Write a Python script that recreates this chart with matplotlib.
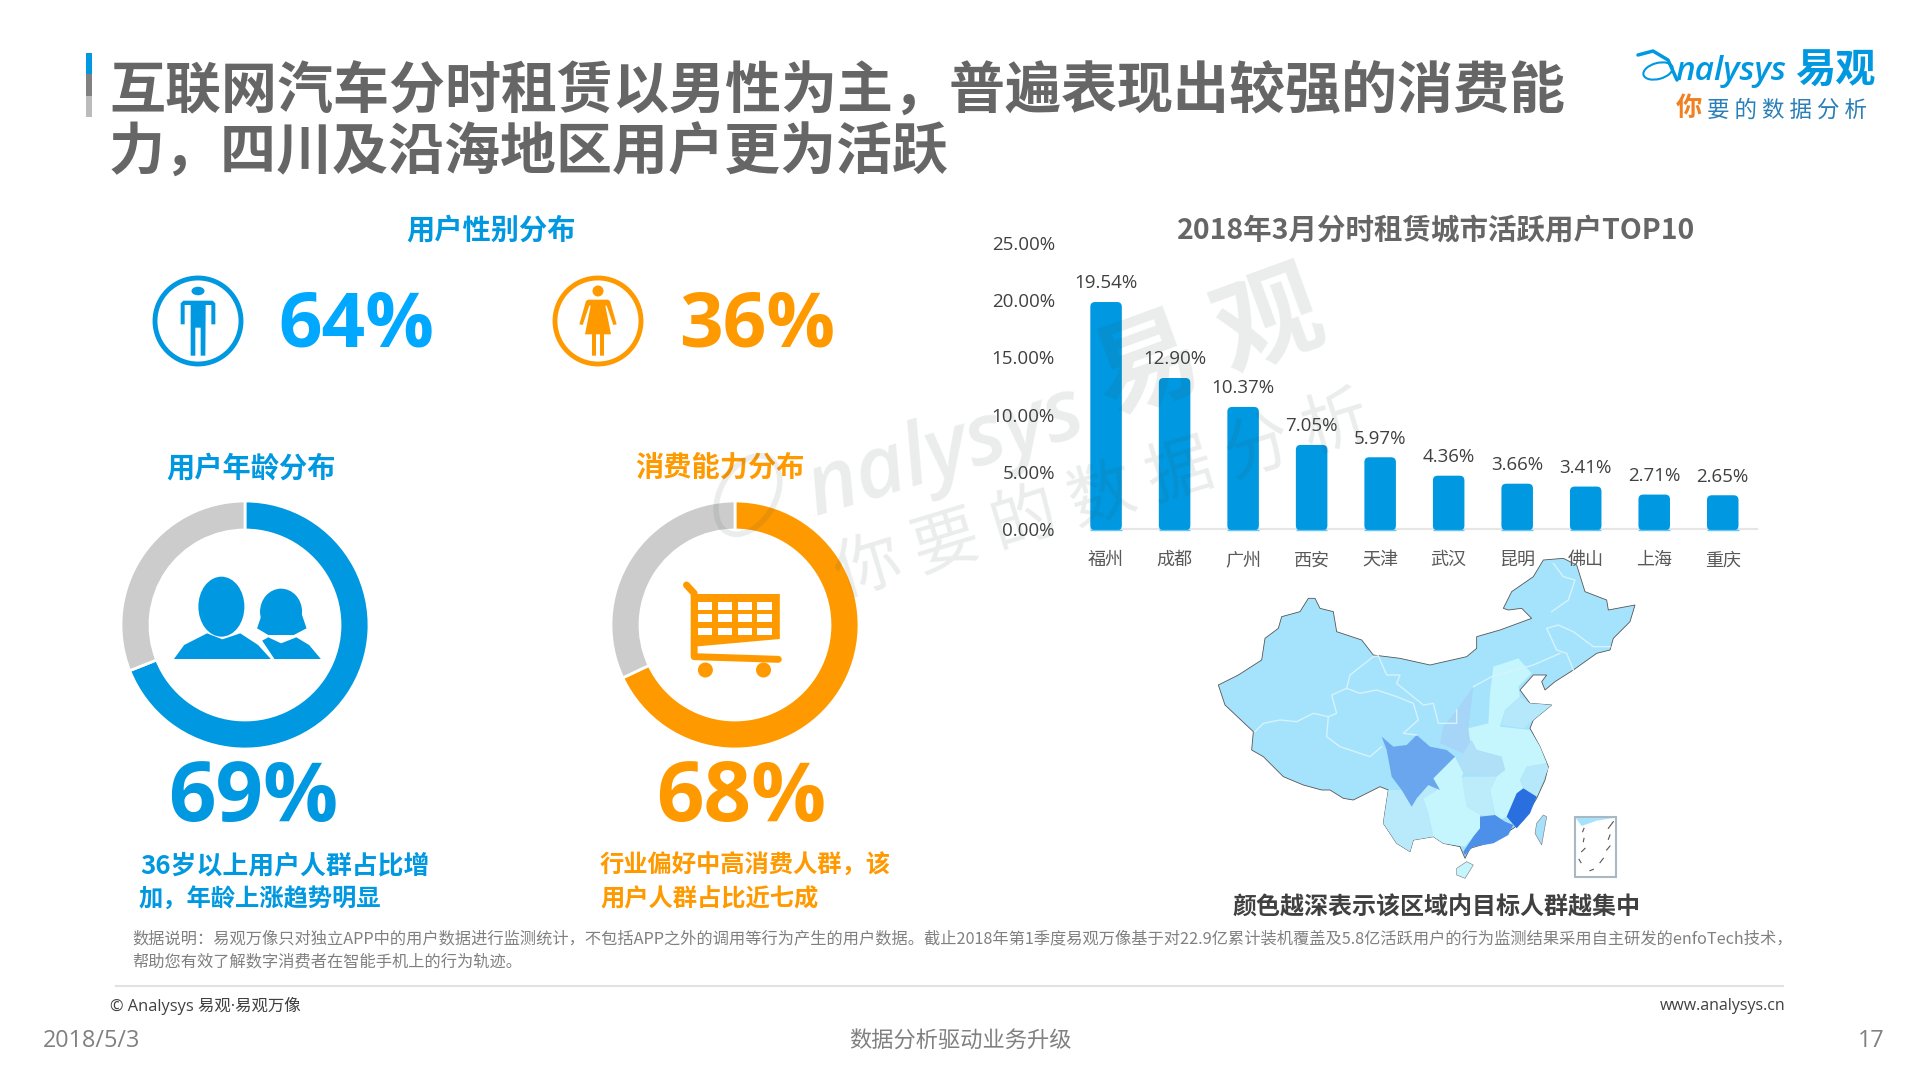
import matplotlib
matplotlib.use('Agg')
import matplotlib.pyplot as plt
from matplotlib.patches import Circle, Ellipse, FancyBboxPatch, Polygon, Rectangle

CJK = ['Noto Sans CJK SC', 'DejaVu Sans']
LATIN = ['Open Sans', 'Noto Sans CJK SC', 'DejaVu Sans']
plt.rcParams['font.family'] = LATIN

BLUE = '#0098E0'
SKY = '#00A8FF'
ORANGE = '#FF9900'
RING_GREY = '#CCCCCC'

# chart data
cities = ['福州', '成都', '广州', '西安', '天津', '武汉', '昆明', '佛山', '上海', '重庆']
city_share = [19.54, 12.90, 10.37, 7.05, 5.97, 4.36, 3.66, 3.41, 2.71, 2.65]
share_ticks = [0, 5, 10, 15, 20, 25]
male_pct = 64
female_pct = 36
age_share = [69, 31]
spend_share = [68, 32]

title_lines = ['互联网汽车分时租赁以男性为主，普遍表现出较强的消费能', '力，四川及沿海地区用户更为活跃']
note_lines = [
    '数据说明：易观万像只对独立APP中的用户数据进行监测统计，不包括APP之外的调用等行为产生的用户数据。'
    '截止2018年第1季度易观万像基于对22.9亿累计装机覆盖及5.8亿活跃用户的行为监测结果采用自主研发的enfoTech技术，',
    '帮助您有效了解数字消费者在智能手机上的行为轨迹。',
]

china = [(115, 405), (175, 375), (245, 330), (255, 265), (295, 235), (305, 200), (360, 185), (385, 145),
         (405, 145), (420, 175), (460, 185), (470, 245), (545, 270), (580, 315), (660, 325), (750, 345),
         (860, 320), (890, 295), (890, 260), (960, 240), (1055, 205), (1025, 175), (985, 180), (970, 175),
         (995, 125), (1060, 80), (1090, 30), (1150, 25), (1190, 45), (1215, 125), (1280, 150), (1285, 180),
         (1365, 165), (1350, 215), (1300, 265), (1290, 300), (1250, 310), (1180, 360), (1125, 395), (1095, 420),
         (1085, 395), (1100, 375), (1060, 375), (1020, 420), (1050, 460), (1115, 465), (1060, 510), (1050, 535),
         (1080, 590), (1105, 650), (1095, 690), (1070, 745), (1030, 810), (1000, 835), (960, 860), (920, 880),
         (870, 895), (855, 925), (840, 890), (790, 880), (760, 860), (700, 870), (690, 905), (650, 880),
         (610, 820), (615, 785), (625, 720), (600, 710), (520, 750), (490, 745), (450, 720), (425, 720),
         (370, 705), (310, 680), (250, 620), (215, 600), (220, 545), (135, 465)]
regions = [
    ('#A6D5F7', [(880, 410), (865, 535), (875, 570), (850, 610), (780, 580), (790, 530), (830, 480)]),
    ('#C5F6FD', [(940, 350), (1015, 325), (1055, 370), (1015, 410), (1020, 440), (975, 480), (960, 530), (1050, 540),
                 (1080, 590), (1100, 640), (1040, 650), (1020, 690), (1030, 715), (1010, 730), (980, 800), (950, 815),
                 (930, 720), (950, 680), (975, 660), (965, 620), (890, 600), (870, 570), (865, 535), (925, 520),
                 (930, 430)]),
    ('#B5E8FA', [(975, 480), (1020, 440), (1050, 460), (1115, 465), (1060, 510), (1030, 535), (965, 525)]),
    ('#B5E8FA', [(1040, 650), (1100, 640), (1105, 655), (1070, 740), (1030, 715), (1020, 690)]),
    ('#B0DFF8', [(850, 610), (875, 570), (890, 600), (965, 620), (975, 660), (940, 680), (850, 670), (830, 650)]),
    ('#BCECFA', [(845, 680), (950, 680), (930, 720), (945, 800), (900, 795), (860, 770)]),
    ('#C5F6FD', [(730, 745), (770, 720), (760, 685), (790, 655), (825, 620), (850, 670), (845, 680), (860, 770),
                 (900, 795), (900, 835), (880, 860), (855, 890), (790, 880), (760, 860), (745, 790)]),
    ('#B8EAFB', [(625, 720), (665, 720), (695, 770), (710, 745), (745, 705), (770, 720), (730, 745), (745, 790),
                 (760, 860), (700, 870), (690, 905), (650, 880), (610, 820), (615, 785)]),
    ('#6AA6EE', [(605, 560), (640, 590), (680, 585), (710, 555), (750, 590), (800, 600), (825, 620), (790, 655),
                 (760, 685), (780, 720), (745, 705), (710, 745), (695, 770), (665, 720), (635, 680), (620, 600)]),
    ('#2A6FE0', [(1010, 730), (1030, 715), (1070, 740), (1050, 790), (1010, 835), (980, 800)]),
    ('#4D90EA', [(900, 800), (945, 795), (975, 815), (1000, 825), (985, 855), (940, 880), (880, 890), (855, 915),
                 (860, 930), (850, 905), (880, 860), (900, 835)]),
]
islands = [
    ('#A6E0FB', [(1090, 795), (1100, 800), (1085, 885), (1065, 850), (1070, 820)]),
    ('#C5F6FD', [(830, 955), (860, 935), (880, 945), (855, 985), (830, 975)]),
]
borders = [
    [(225, 545), (250, 520), (300, 510), (350, 515), (400, 490), (445, 500)],
    [(445, 500), (470, 490), (455, 435), (500, 415), (510, 375), (580, 320), (595, 318)],
    [(595, 318), (620, 375), (660, 375), (650, 400), (730, 465), (760, 460), (775, 520), (830, 520), (830, 480)],
    [(445, 500), (440, 560), (480, 590), (570, 620), (605, 590)],
    [(500, 415), (540, 430), (590, 420), (650, 440), (700, 460), (715, 510), (670, 550), (710, 555)],
    [(1180, 360), (1160, 310), (1130, 300), (1100, 235), (1135, 225), (1180, 245), (1240, 290), (1290, 290)],
    [(1115, 185), (1165, 150), (1185, 90), (1150, 80), (1120, 40)],
    [(880, 410), (935, 380), (1060, 345), (1140, 310)],
]
male_body = [(122, 178), (122, 115), (130, 107), (218, 107), (226, 115), (226, 178), (214, 178), (214, 120), (197, 120),
             (196, 272), (182, 272), (182, 188), (166, 188), (166, 272), (152, 272), (152, 120), (134, 120), (134, 178)]
female_body = [(118, 178), (138, 108), (145, 104), (203, 104), (210, 108), (230, 178), (220, 180), (200, 122), (196, 122),
               (213, 208), (192, 208), (192, 272), (180, 272), (180, 208), (168, 208), (168, 272), (156, 272), (156, 208),
               (135, 208), (152, 122), (148, 122), (128, 180)]


def map_xy(p):
    return 1180 + p[0] / 3, 550 + p[1] / 3


def left_xy(x, y):
    # crop of the donut area: corner (100, 450), x shrunk to 0.51, y to 1/3
    return 100 + x * 0.51, 450 + y / 3


fig = plt.figure(figsize=(19.2, 10.8), dpi=100, facecolor='white')

bg = fig.add_axes([0, 0, 1, 1], zorder=0)
bg.set_xlim(0, 1920)
bg.set_ylim(1080, 0)
bg.axis('off')


def put(x, y, s, size, color, ha='left', weight='normal', family=CJK, **kw):
    return bg.text(x, y, s, fontsize=size, color=color, ha=ha, va='center', fontweight=weight,
                   family=family, **kw)


# header
bg.add_patch(Rectangle((86, 53), 6, 21, color=BLUE, lw=0))
bg.add_patch(Rectangle((86, 74), 6, 22, color='#808080', lw=0))
bg.add_patch(Rectangle((86, 96), 6, 21, color='#BBBBBB', lw=0))
put(109, 92, title_lines[0], 40.3, '#666666', weight='bold')
put(109, 154, title_lines[1], 40.3, '#666666', weight='bold')

# logo
bg.add_patch(Ellipse((1658, 71), 30, 16, angle=-15, fill=False, ec=BLUE, lw=1.5))
bg.plot([1638, 1653, 1668, 1677], [55, 51, 60, 80], color=BLUE, lw=2.5, solid_capstyle='round')
put(1675, 72, 'nalysys', 24, BLUE, family=LATIN, style='italic', weight='semibold')
put(1795, 71, '易观', 29, BLUE, weight='bold')
put(1676, 108, '你', 19, '#F08020', weight='bold')
put(1707, 110, ' '.join('要的数据分析'), 16.2, '#2A7FB8')

# gender block
put(491, 231, '用户性别分布', 20.3, BLUE, ha='center', weight='bold')
for cx, col, head_w, head_h in [(198, BLUE, 13, 8.5), (598, ORANGE, 11, 11)]:
    bg.add_patch(Circle((cx, 321), 43, fill=False, ec=col, lw=3.5))
    bg.add_patch(Ellipse((cx, 291), head_w, head_h, color=col, lw=0))
bg.add_patch(Polygon([(140 + x / 3, 265 + y / 3) for x, y in male_body], color=BLUE, lw=0))
bg.add_patch(Polygon([(540 + x / 3, 265 + y / 3) for x, y in female_body], color=ORANGE, lw=0))
put(278, 327, f'{male_pct}%', 55, SKY, weight='bold', family=LATIN)
put(679, 327, f'{female_pct}%', 55, ORANGE, weight='bold', family=LATIN)

# donut headings and figures
put(251, 469, '用户年龄分布', 20.3, BLUE, ha='center', weight='bold')
put(720, 468, '消费能力分布', 20.3, ORANGE, ha='center', weight='bold')
put(253, 799, f'{age_share[0]}%', 60, BLUE, ha='center', weight='bold', family=LATIN)
put(741, 799, f'{spend_share[0]}%', 60, ORANGE, ha='center', weight='bold', family=LATIN)
put(140, 866, '36岁以上用户人群占比增', 18.6, BLUE, weight='bold')
put(139, 900, '加，年龄上涨趋势明显', 17.5, BLUE, weight='bold')
put(600, 866, '行业偏好中高消费人群，该', 17.5, ORANGE, weight='bold')
put(600, 900, '用户人群占比近七成', 17.5, ORANGE, weight='bold')

for center_x, vals, col in [(245, age_share, BLUE), (735, spend_share, ORANGE)]:
    r = 124
    ax = fig.add_axes([(center_x - r) / 1920, (1080 - 625 - r) / 1080, 2 * r / 1920, 2 * r / 1080], zorder=1)
    ax.pie(vals, colors=[col, RING_GREY], startangle=90, counterclock=False, radius=1,
           wedgeprops={'width': 29 / 124, 'edgecolor': 'white', 'linewidth': 2})
    ax.set_xlim(-1, 1)
    ax.set_ylim(-1, 1)

# people icon
bg.add_patch(Ellipse(left_xy(238, 470), 46, 60, color=BLUE, lw=0))
bg.add_patch(Polygon([left_xy(*p) for p in [(145, 627), (165, 585), (210, 550), (240, 568), (275, 550), (310, 585), (335, 627)]],
                     color=BLUE, lw=0))
bg.add_patch(Ellipse(left_xy(355, 485), 42, 46, color=BLUE, lw=0))
bg.add_patch(Polygon([left_xy(*p) for p in [(308, 535), (318, 490), (395, 490), (405, 535), (380, 555), (330, 555)]], color=BLUE, lw=0))
bg.add_patch(Polygon([left_xy(*p) for p in [(318, 572), (330, 562), (355, 580), (385, 562), (410, 585), (433, 627), (342, 627)]],
                     color=BLUE, lw=0))

# cart icon
bg.plot(*zip(*[left_xy(*p) for p in [(1150, 405), (1165, 430), (1165, 620), (1330, 628)]]), color=ORANGE, lw=5,
        solid_capstyle='round', solid_joinstyle='round')
bg.add_patch(Polygon([left_xy(*p) for p in [(1165, 432), (1333, 432), (1333, 567), (1165, 590)]], color=ORANGE, lw=0))
for cell_y0, cell_y1 in [(455, 480), (493, 517), (533, 556)]:
    for cell_x0, cell_x1 in [(1172, 1200), (1212, 1240), (1250, 1278), (1288, 1318)]:
        x0, y0 = left_xy(cell_x0, cell_y0)
        x1, y1 = left_xy(cell_x1, cell_y1)
        bg.add_patch(Rectangle((x0, y0), x1 - x0, y1 - y0, color='white', lw=0))
for wheel_x in [1187, 1301]:
    bg.add_patch(Circle(left_xy(wheel_x, 660), 7.5, color=ORANGE, lw=0))

# bar chart, axes box runs from the 0% to the 25% tick
ax = fig.add_axes([1091 / 1920, (1080 - 529) / 1080, 666 / 1920, 286 / 1080], zorder=2)
ax.patch.set_alpha(0)
ax.set_xlim(-0.22, 9.5)
ax.set_ylim(0, 25)
bar_w = 0.46
for i, v in enumerate(city_share):
    ax.add_patch(FancyBboxPatch((i - bar_w / 2, -0.12), bar_w, v + 0.42,
                                boxstyle='round,pad=0,rounding_size=0.07', mutation_aspect=6,
                                fc=BLUE, ec='none', clip_on=False, zorder=3))
    ax.hlines(-0.05, i - bar_w / 2, i + bar_w / 2, color='#66C4F2', lw=1, zorder=4, clip_on=False)
    ax.annotate(f'{v:.2f}%', (i, v), xytext=(0, 22), textcoords='offset pixels', ha='center', va='center',
                fontsize=13.5, color='#404040')
for side in ['top', 'right', 'left']:
    ax.spines[side].set_visible(False)
ax.spines['bottom'].set_color('#E6E6E6')
ax.spines['bottom'].set_linewidth(1.5)
ax.set_xticks(range(len(cities)))
ax.set_xticklabels(cities, fontsize=13, color='#595959', family=CJK)
ax.set_yticks(share_ticks)
ax.set_yticklabels([f'{t:.2f}%' for t in share_ticks], fontsize=13.5, color='#404040')
ax.tick_params(axis='both', length=0)
ax.tick_params(axis='x', pad=16)
ax.tick_params(axis='y', pad=26)
put(1436, 231, '2018年3月分时租赁城市活跃用户TOP10', 20.5, '#666666', ha='center', weight='bold')

# map
bg.add_patch(Polygon([map_xy(p) for p in china], fc='#A5E3FC', ec='#555555', lw=0.6))
for col, pts in regions:
    bg.add_patch(Polygon([map_xy(p) for p in pts], fc=col, ec='none'))
for col, pts in islands:
    bg.add_patch(Polygon([map_xy(p) for p in pts], fc=col, ec='#777777', lw=0.4))
for line in borders:
    bg.plot(*zip(*[map_xy(p) for p in line]), color='#D6F3FD', lw=1)
x0, y0 = map_xy((1185, 802))
x1, y1 = map_xy((1308, 982))
bg.add_patch(Rectangle((x0, y0), x1 - x0, y1 - y0, fc='white', ec='#AAB8C4', lw=1.5))
bg.add_patch(Polygon([map_xy(p) for p in [(1187, 804), (1300, 804), (1250, 812), (1205, 828)]], fc='#A5E3FC', ec='none'))
for seg in [[(1300, 815), (1285, 835)], [(1212, 835), (1208, 845)], [(1290, 855), (1285, 868)], [(1212, 865), (1210, 875)],
            [(1290, 888), (1280, 900)], [(1215, 895), (1205, 905)], [(1270, 925), (1260, 938)], [(1197, 928), (1203, 938)],
            [(1240, 958), (1230, 962)]]:
    bg.plot(*zip(*[map_xy(p) for p in seg]), color='#555555', lw=0.8)
put(1436, 908, '颜色越深表示该区域内目标人群越集中', 17.3, '#404040', ha='center', weight='bold')

# footer
put(132, 939, note_lines[0], 11.7, '#808080')
put(132, 962, note_lines[1], 11.7, '#808080')
bg.plot([116, 1783], [986, 986], color='#E2E2E2', lw=1.5)
put(110, 1006, '© Analysys 易观·易观万像', 11.8, '#404040', family=LATIN)
put(1785, 1006, 'www.analysys.cn', 11.5, '#404040', ha='right', family=LATIN)
put(43, 1041, '2018/5/3', 16.8, '#808080', family=LATIN)
put(960, 1041, '数据分析驱动业务升级', 16, '#808080', ha='center')
put(1885, 1041, '17', 16.8, '#808080', ha='right', family=LATIN)

# watermark on top of everything
wm = fig.add_axes([0, 0, 1, 1], zorder=5)
wm.patch.set_alpha(0)
wm.set_xlim(0, 1920)
wm.set_ylim(1080, 0)
wm.axis('off')
wm_col = '#3C5050'
wm.text(945, 453, 'nalysys', fontsize=62, color=wm_col, alpha=0.1, rotation=17, ha='center', va='center',
        style='italic', fontweight='semibold', family=LATIN, rotation_mode='anchor')
wm.text(1208, 345, '易 观', fontsize=76, color=wm_col, alpha=0.1, rotation=20, ha='center', va='center',
        fontweight='bold', family=CJK, rotation_mode='anchor')
wm.text(1102, 497, ' '.join('你要的数据分析'), fontsize=48, color=wm_col, alpha=0.1, rotation=17, ha='center',
        va='center', family=CJK, rotation_mode='anchor')
wm.add_patch(Ellipse((748, 495), 55, 85, angle=30, fill=False, ec=wm_col, alpha=0.1, lw=4))

fig.savefig('out.png', dpi=100)
